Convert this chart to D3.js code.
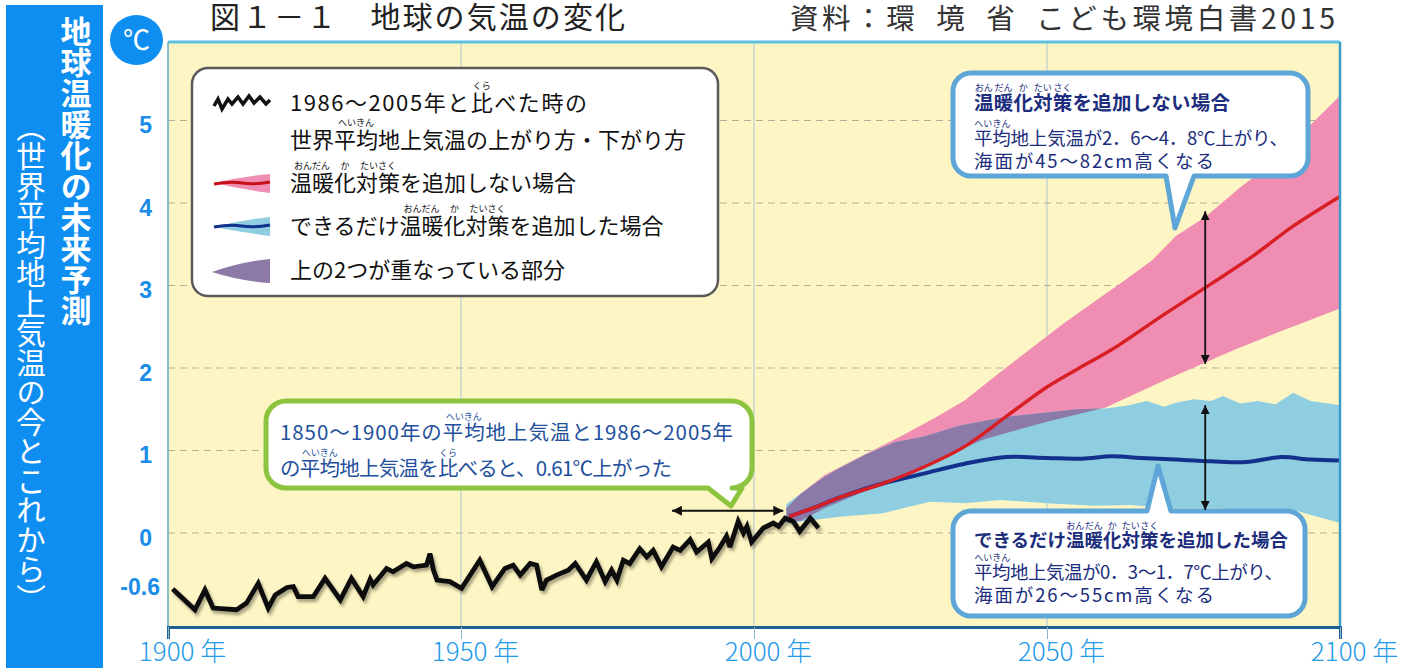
<!DOCTYPE html>
<html>
<head>
<meta charset="utf-8">
<script src="https://cdn.jsdelivr.net/npm/d3@7"></script>
<style>
  body { margin: 0; background: #fff; }
  svg { display: block; font-family: "Noto Sans CJK JP", "Noto Sans", sans-serif; }
</style>
</head>
<body>
<svg id="chart" width="1407" height="668"></svg>
<script>
// ---- data ----
// observed: change vs 1986-2005 mean
const obsYears = [1900.8,1904.6,1906.3,1907.7,1911.7,1913.4,1915.4,1917.1,1918.3,1920.3,1921.4,1922.2,1924.8,1926.8,1929.4,1931.3,1933.3,1934.5,1935.0,1937.3,1938.4,1940.7,1941.9,1944.1,1944.7,1945.3,1945.9,1948.1,1950.1,1953.2,1955.3,1957.5,1958.9,1960.1,1961.8,1962.9,1963.8,1964.6,1966.3,1968.3,1969.5,1971.4,1973.1,1974.6,1975.7,1976.6,1977.7,1978.8,1980.5,1981.7,1982.8,1984.2,1986.2,1987.4,1989.1,1990.2,1992.2,1992.8,1994.2,1995.3,1995.9,1997.3,1998.2,1998.8,1999.6,2001.6,2003.3,2004.2,2005.3,2006.7,2007.8,2009.6,2011.0];
const obsTemps = [-0.68,-0.93,-0.69,-0.91,-0.93,-0.85,-0.61,-0.91,-0.75,-0.66,-0.65,-0.77,-0.77,-0.55,-0.81,-0.55,-0.77,-0.56,-0.63,-0.43,-0.47,-0.37,-0.41,-0.39,-0.25,-0.45,-0.57,-0.59,-0.67,-0.33,-0.65,-0.43,-0.39,-0.51,-0.37,-0.39,-0.69,-0.57,-0.51,-0.45,-0.37,-0.57,-0.35,-0.59,-0.45,-0.57,-0.33,-0.37,-0.19,-0.29,-0.21,-0.41,-0.17,-0.21,-0.08,-0.23,-0.11,-0.31,-0.17,-0.04,-0.17,0.14,0.00,0.08,-0.11,0.06,0.12,0.08,0.18,0.14,0.02,0.18,0.06];

// no additional measures (red)
const redYears = [2006,2010,2015,2022,2029,2036,2043,2050,2057,2061,2070,2078,2085,2092,2100];
const redMean  = [0.20,0.30,0.44,0.60,0.80,1.05,1.41,1.77,2.06,2.22,2.65,3.02,3.35,3.72,4.08];
const redUpYears = [2005.5,2008,2012,2018,2025,2031,2036,2042,2047,2053,2058,2063,2068,2072,2077,2083,2089,2094,2100];
const redUp      = [0.30,0.48,0.70,0.92,1.17,1.40,1.61,1.95,2.22,2.55,2.80,3.05,3.31,3.60,3.83,4.19,4.51,4.88,5.30];
const redLoYears = [2005.5,2008,2012,2017,2022,2030,2039,2050,2060,2070,2082,2090,2100];
const redLo      = [0.14,0.15,0.30,0.45,0.60,0.85,1.13,1.35,1.52,1.85,2.22,2.45,2.72];

// as many measures as possible (blue)
const blueYears = [2006,2010,2015,2022,2029,2036,2043,2050,2056,2061,2066,2072,2078,2084,2090,2095,2100];
const blueMean  = [0.20,0.30,0.44,0.60,0.72,0.84,0.92,0.91,0.90,0.93,0.91,0.89,0.87,0.86,0.92,0.89,0.88];
const blueUpYears = [2005.5,2008,2012,2015,2019,2024,2029,2035,2043,2050,2055,2060,2064,2067,2070,2072,2075,2078,2080,2083,2086,2089,2092,2095,2098,2100];
const blueUp      = [0.35,0.48,0.68,0.80,0.95,1.10,1.17,1.30,1.41,1.46,1.50,1.51,1.55,1.60,1.53,1.58,1.62,1.60,1.66,1.57,1.60,1.56,1.70,1.60,1.57,1.55];
const blueLoYears = [2005.5,2008,2015,2022,2030,2036,2042,2050,2058,2064,2072,2079,2086,2093,2096,2100];
const blueLo      = [0.12,0.14,0.20,0.24,0.38,0.36,0.40,0.36,0.33,0.34,0.30,0.30,0.27,0.26,0.20,0.12];

const xTicks = [1900, 1950, 2000, 2050, 2100];
const xGridYears = [1950, 2000, 2050];
const yTicks = [5, 4, 3, 2, 1, 0, -0.6];
const yGrid = [0, 1, 2, 3, 4, 5];

// ---- setup ----
const svg = d3.select("#chart");
const pL = 168, pR = 1340, pT = 42, pB = 627;
const x = d3.scaleLinear().domain([1900, 2100]).range([pL, pR]);
const y = d3.scaleLinear().domain([0, 5]).range([533, 120.5]);

const defs = svg.append("defs");
const shadow = defs.append("filter").attr("id", "shadow").attr("x", "-5%").attr("y", "-20%").attr("width", "110%").attr("height", "140%");
shadow.append("feDropShadow").attr("dx", 2).attr("dy", 3).attr("stdDeviation", 1.6)
  .attr("flood-color", "#000").attr("flood-opacity", 0.35);
defs.append("marker").attr("id", "arr").attr("viewBox", "0 0 10 10")
  .attr("refX", 10).attr("refY", 5).attr("markerWidth", 5).attr("markerHeight", 5)
  .attr("orient", "auto-start-reverse").attr("markerUnits", "strokeWidth")
  .append("path").attr("d", "M0,0 L10,5 L0,10 Z").attr("fill", "#111");

// left blue panel
svg.append("rect").attr("x", 6).attr("y", 5).attr("width", 97).attr("height", 663).attr("fill", "#0f8ef2");
svg.append("text").attr("x", 76).attr("y", 16)
  .style("writing-mode", "vertical-rl")
  .attr("font-size", 31).attr("font-weight", 700).attr("fill", "#fff")
  .text("地球温暖化の未来予測");
svg.append("text").attr("x", 31).attr("y", 112)
  .style("writing-mode", "vertical-rl")
  .attr("font-size", 29.5).attr("fill", "#fff")
  .text("（世界平均地上気温の今とこれから）");

// degree badge
svg.append("ellipse").attr("cx", 136.5).attr("cy", 40).attr("rx", 26.5).attr("ry", 25).attr("fill", "#0f8ef2");
svg.append("text").attr("x", 136.5).attr("y", 50).attr("text-anchor", "middle")
  .attr("font-size", 27).attr("fill", "#fff").text("℃");

// titles
svg.append("text").attr("x", 210).attr("y", 28).attr("font-size", 30).attr("fill", "#222")
  .attr("textLength", 415).attr("lengthAdjust", "spacing")
  .text("図１－１　地球の気温の変化");
svg.append("text").attr("x", 790).attr("y", 29).attr("font-size", 28.5).attr("fill", "#333")
  .attr("textLength", 545).attr("lengthAdjust", "spacing")
  .text("資料：環\u2002境\u2002省\u2002こども環境白書2015");

// plot background
svg.append("rect").attr("x", pL).attr("y", pT).attr("width", pR - pL).attr("height", pB - pT)
  .attr("fill", "#fdf5c3");

// grid
svg.append("g").selectAll("line").data(xGridYears).join("line")
  .attr("x1", d => x(d)).attr("x2", d => x(d)).attr("y1", pT).attr("y2", pB)
  .attr("stroke", "#a9c9d2").attr("stroke-width", 1);
svg.append("g").selectAll("line").data(yGrid).join("line")
  .attr("x1", pL).attr("x2", pR).attr("y1", d => y(d)).attr("y2", d => y(d))
  .attr("stroke", "#b3b09a").attr("stroke-width", 1).attr("stroke-dasharray", "7,5");

// bands
const pts = (ys, vs) => ys.map((yr, i) => [yr, vs[i]]);
const closed = d3.line().x(d => x(d[0])).y(d => y(d[1])).curve(d3.curveLinearClosed);
const redBand = pts(redUpYears, redUp).concat(pts(redLoYears, redLo).reverse());
const blueBand = pts(blueUpYears, blueUp).concat(pts(blueLoYears, blueLo).reverse());

defs.append("clipPath").attr("id", "blueClip").append("path").attr("d", closed(blueBand));

svg.append("path").attr("d", closed(redBand)).attr("fill", "#ef8db3");
svg.append("path").attr("d", closed(blueBand)).attr("fill", "#8fcde0");
svg.append("path").attr("d", closed(redBand)).attr("fill", "#8b79a8").attr("clip-path", "url(#blueClip)");

// mean lines
const smooth = d3.line().x(d => x(d[0])).y(d => y(d[1])).curve(d3.curveCatmullRom);
svg.append("path").attr("d", smooth(pts(blueYears, blueMean))).attr("fill", "none")
  .attr("stroke", "#12318c").attr("stroke-width", 4);
svg.append("path").attr("d", smooth(pts(redYears, redMean))).attr("fill", "none")
  .attr("stroke", "#d81f24").attr("stroke-width", 3.5);

// observed
const obsLine = d3.line().x(d => x(d[0])).y(d => y(d[1]));
svg.append("path").attr("d", obsLine(pts(obsYears, obsTemps))).attr("fill", "none")
  .attr("stroke", "#111").attr("stroke-width", 4.8).attr("stroke-linejoin", "miter")
  .attr("stroke-miterlimit", 3).attr("filter", "url(#shadow)");

// frame
svg.append("line").attr("x1", pL).attr("x2", pR).attr("y1", pT).attr("y2", pT)
  .attr("stroke", "#5cc2e0").attr("stroke-width", 3);
svg.append("line").attr("x1", pL).attr("x2", pL).attr("y1", pT).attr("y2", pB)
  .attr("stroke", "#5fa9c4").attr("stroke-width", 1.5);
svg.append("line").attr("x1", pR).attr("x2", pR).attr("y1", pT).attr("y2", pB)
  .attr("stroke", "#3b9cc8").attr("stroke-width", 2.5);

// axes
const xAxis = svg.append("g").attr("transform", `translate(0,${pB})`)
  .call(d3.axisBottom(x).tickValues(xTicks).tickSize(12).tickFormat(d => d + " 年"));
xAxis.select(".domain").attr("stroke", "#1d5f93").attr("stroke-width", 3);
xAxis.selectAll(".tick line").attr("stroke", "#8ab6c8");
xAxis.selectAll(".tick text").attr("y", 34).attr("dy", 0).attr("x", 14)
  .attr("font-size", 26).attr("font-weight", 300).attr("fill", "#1e9ae8")
  .attr("font-family", "'Noto Sans CJK JP', sans-serif");

const yAxis = svg.append("g").attr("transform", `translate(${pL},0)`)
  .call(d3.axisLeft(y).tickValues(yTicks).tickSize(0).tickFormat(d => d === -0.6 ? "-0.6" : d3.format("d")(d)));
yAxis.select(".domain").remove();
yAxis.selectAll(".tick text").attr("x", d => d < 0 ? -8 : -16).attr("dy", 12)
  .attr("font-size", 23).attr("font-weight", 700).attr("fill", "#1a8ce8")
  .attr("font-family", "'Liberation Sans', Arial, sans-serif");

// ---- helpers for annotations ----
function label(g, str, x0, yb, size, opts = {}) {
  const t = g.append("text").attr("x", x0).attr("y", yb).attr("font-size", size)
    .attr("fill", opts.fill || "#111").attr("font-weight", opts.weight || 400);
  if (opts.len) t.attr("textLength", opts.len).attr("lengthAdjust", "spacing");
  t.text(str);
  return t;
}
function ruby(g, t, idx, count, str, size = 9) {
  const n = t.node();
  const x0 = n.getStartPositionOfChar(idx).x;
  const x1 = n.getEndPositionOfChar(idx + count - 1).x;
  const fs = +t.attr("font-size");
  g.append("text").attr("x", (x0 + x1) / 2).attr("y", +t.attr("y") - fs * 1.0)
    .attr("text-anchor", "middle").attr("font-size", size).attr("fill", t.attr("fill")).text(str);
}
function rubyWord(g, t, word, parts) {
  const s = t.text();
  let i = s.indexOf(word);
  parts.forEach(([n, r]) => { ruby(g, t, i, n, r); i += n; });
}
function bubble(x0, y0, w, h, r, tail) {
  const p = d3.path();
  p.moveTo(x0 + r, y0);
  if (tail.side === "top") { p.lineTo(tail.a, y0); p.lineTo(tail.tx, tail.ty); p.lineTo(tail.b, y0); }
  p.lineTo(x0 + w - r, y0);
  p.arcTo(x0 + w, y0, x0 + w, y0 + r, r);
  p.lineTo(x0 + w, y0 + h - r);
  p.arcTo(x0 + w, y0 + h, x0 + w - r, y0 + h, r);
  if (tail.side === "bottom") { p.lineTo(tail.b, y0 + h); p.lineTo(tail.tx, tail.ty); p.lineTo(tail.a, y0 + h); }
  p.lineTo(x0 + r, y0 + h);
  p.arcTo(x0, y0 + h, x0, y0 + h - r, r);
  p.lineTo(x0, y0 + r);
  p.arcTo(x0, y0, x0 + r, y0, r);
  p.closePath();
  return p.toString();
}

// ---- legend ----
const lg = svg.append("g");
lg.append("rect").attr("x", 192).attr("y", 68).attr("width", 526).attr("height", 228).attr("rx", 16)
  .attr("fill", "#fff").attr("stroke", "#5a5a5a").attr("stroke-width", 2.5);
lg.append("path").attr("d", "M214,106 L218,99 L222,109 L228,99 L232,104 L238,97 L243,104 L249,96 L254,103 L260,97 L266,104 L270,100")
  .attr("fill", "none").attr("stroke", "#111").attr("stroke-width", 3.5);
lg.append("path").attr("d", "M214,183 Q240,177 270,174 L270,193 Q240,189 214,183 Z").attr("fill", "#ef8db3");
lg.append("path").attr("d", "M214,184 Q230,181 242,183 T270,182").attr("fill", "none").attr("stroke", "#c8101a").attr("stroke-width", 3);
lg.append("path").attr("d", "M214,227 Q240,220 270,217 L270,236 Q240,232 214,227 Z").attr("fill", "#8fcde0");
lg.append("path").attr("d", "M214,227 Q230,224 242,226 T270,225").attr("fill", "none").attr("stroke", "#12318c").attr("stroke-width", 3);
lg.append("path").attr("d", "M212,272 Q240,262 270,259 L270,283 Q240,281 212,272 Z").attr("fill", "#8b79a8");

const l1 = label(lg, "1986〜2005年と比べた時の", 290, 111, 22, { len: 297 });
const l2 = label(lg, "世界平均地上気温の上がり方・下がり方", 290, 148, 22);
const l3 = label(lg, "温暖化対策を追加しない場合", 290, 191, 22);
const l4 = label(lg, "できるだけ温暖化対策を追加した場合", 290, 234, 22);
label(lg, "上の2つが重なっている部分", 290, 278, 22);
rubyWord(lg, l1, "比", [[1, "くら"]]);
rubyWord(lg, l2, "平均", [[2, "へいきん"]]);
rubyWord(lg, l3, "温暖化対策", [[2, "おんだん"], [1, "か"], [2, "たいさく"]]);
rubyWord(lg, l4, "温暖化対策", [[2, "おんだん"], [1, "か"], [2, "たいさく"]]);

// ---- callouts ----
const navy = "#1b2d7c";
const cg = svg.append("g");
cg.append("path").attr("d", bubble(953, 73, 355, 103, 18, { side: "bottom", a: 1166, b: 1194, tx: 1175, ty: 228 }))
  .attr("fill", "#fff").attr("stroke", "#5ea6d8").attr("stroke-width", 5).attr("stroke-linejoin", "round");
const t1 = label(cg, "温暖化対策を追加しない場合", 974, 110, 19.5, { fill: navy, weight: 700, len: 256 });
const t2 = label(cg, "平均地上気温が2．6～4．8℃上がり、", 974, 145, 18.5, { fill: navy, len: 314 });
label(cg, "海面が45～82cm高くなる", 974, 168, 18.5, { fill: navy, len: 240 });
rubyWord(cg, t1, "温暖化対策", [[1, "おん"], [1, "だん"], [1, "か"], [1, "たい"], [1, "さく"]]);
rubyWord(cg, t2, "平均", [[1, "へい"], [1, "きん"]]);

cg.append("path").attr("d", bubble(953, 511, 352, 105, 18, { side: "top", a: 1147, b: 1171, tx: 1158, ty: 466 }))
  .attr("fill", "#fff").attr("stroke", "#5ea6d8").attr("stroke-width", 5).attr("stroke-linejoin", "round");
const b1 = label(cg, "できるだけ温暖化対策を追加した場合", 974, 547, 18.5, { fill: navy, weight: 700, len: 314 });
const b2 = label(cg, "平均地上気温が0．3～1．7℃上がり、", 974, 579, 18.5, { fill: navy, len: 309 });
label(cg, "海面が26～55cm高くなる", 974, 602, 18.5, { fill: navy, len: 240 });
rubyWord(cg, b1, "温暖化対策", [[1, "おん"], [1, "だん"], [1, "か"], [1, "たい"], [1, "さく"]]);
rubyWord(cg, b2, "平均", [[1, "へい"], [1, "きん"]]);

cg.append("path").attr("d", bubble(266, 401, 486, 87, 20, { side: "bottom", a: 708, b: 742, tx: 731, ty: 506 }))
  .attr("fill", "#fff").attr("stroke", "#8cc43f").attr("stroke-width", 5).attr("stroke-linejoin", "round");
const g1 = label(cg, "1850〜1900年の平均地上気温と1986〜2005年", 280, 440, 20.5, { fill: "#22509c", len: 453 });
const g2 = label(cg, "の平均地上気温を比べると、0.61℃上がった", 280, 476, 20.5, { fill: "#22509c", len: 392 });
rubyWord(cg, g1, "平均", [[2, "へいきん"]]);
rubyWord(cg, g2, "平均", [[2, "へいきん"]]);
rubyWord(cg, g2, "比", [[1, "くら"]]);

// ---- arrows ----
const ag = svg.append("g").attr("stroke", "#111").attr("stroke-width", 2).attr("fill", "none");
ag.append("line").attr("x1", x(1986)).attr("x2", x(2005)).attr("y1", y(0.27)).attr("y2", y(0.27))
  .attr("marker-start", "url(#arr)").attr("marker-end", "url(#arr)");
ag.append("line").attr("x1", x(2077)).attr("x2", x(2077)).attr("y1", y(2.05)).attr("y2", y(3.9))
  .attr("stroke-width", 1.8).attr("marker-start", "url(#arr)").attr("marker-end", "url(#arr)");
ag.append("line").attr("x1", x(2077)).attr("x2", x(2077)).attr("y1", y(0.28)).attr("y2", y(1.55))
  .attr("stroke-width", 1.8).attr("marker-start", "url(#arr)").attr("marker-end", "url(#arr)");
</script>
</body>
</html>
